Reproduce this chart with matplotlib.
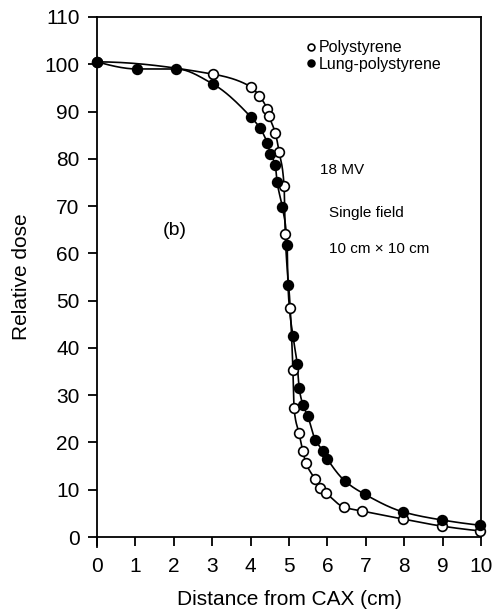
import numpy as np
import matplotlib.pyplot as plt

plt.rcParams['font.family'] = ['Liberation Sans', 'DejaVu Sans']

# polystyrene phantom (open circles)
poly_x = [0, 3.02, 4.01, 4.22, 4.43, 4.48, 4.64, 4.74, 4.87, 4.90, 5.03,
          5.10, 5.13, 5.26, 5.36, 5.44, 5.68, 5.81, 5.96, 6.43, 6.90,
          7.97, 8.98, 9.97]
poly_y = [100.5, 97.9, 95.2, 93.3, 90.5, 89.0, 85.5, 81.5, 74.3, 64.0, 48.4,
          35.4, 27.2, 21.9, 18.1, 15.6, 12.2, 10.3, 9.3, 6.3, 5.5,
          3.8, 2.3, 1.3]

# lung-polystyrene phantom (filled circles)
lung_x = [0, 1.04, 2.06, 3.02, 4.01, 4.24, 4.43, 4.51, 4.64, 4.69, 4.82,
          4.95, 4.97, 5.10, 5.21, 5.26, 5.36, 5.49, 5.68, 5.89, 5.99,
          6.46, 6.98, 7.97, 8.98, 9.97]
lung_y = [100.5, 99.0, 99.0, 95.8, 88.8, 86.5, 83.4, 81.1, 78.7, 75.0, 69.9,
          61.7, 53.3, 42.5, 36.6, 31.6, 28.0, 25.5, 20.6, 18.1, 16.6,
          11.8, 9.0, 5.3, 3.6, 2.5]

x_ticks = list(range(0, 11))
y_ticks = list(range(0, 111, 10))


def smooth_path(x, y, n=20):
    # monotone cubic (Fritsch-Carlson) so the drawn curve passes smoothly through the points
    x = np.asarray(x, float)
    y = np.asarray(y, float)
    h = np.diff(x)
    d = np.diff(y) / h
    m = np.zeros_like(x)
    for i in range(1, len(x) - 1):
        if d[i - 1] * d[i] > 0:
            w1 = 2 * h[i] + h[i - 1]
            w2 = h[i] + 2 * h[i - 1]
            m[i] = (w1 + w2) / (w1 / d[i - 1] + w2 / d[i])
    for i, j, k in [(0, 0, 1), (-1, -1, -2)]:
        hh0, hh1 = h[j], h[k]
        dd0, dd1 = d[j], d[k]
        v = ((2 * hh0 + hh1) * dd0 - hh0 * dd1) / (hh0 + hh1)
        if v * dd0 <= 0:
            v = 0.0
        elif dd0 * dd1 <= 0 and abs(v) > abs(3 * dd0):
            v = 3 * dd0
        m[i] = v
    xs, ys = [], []
    for i in range(len(x) - 1):
        t = np.linspace(0, 1, n, endpoint=False)
        h00 = 2 * t**3 - 3 * t**2 + 1
        h10 = t**3 - 2 * t**2 + t
        h01 = -2 * t**3 + 3 * t**2
        h11 = t**3 - t**2
        xs.append(x[i] + t * h[i])
        ys.append(h00 * y[i] + h10 * h[i] * m[i] + h01 * y[i + 1] + h11 * h[i] * m[i + 1])
    xs.append([x[-1]])
    ys.append([y[-1]])
    return np.concatenate(xs), np.concatenate(ys)


fig = plt.figure(figsize=(4.95, 6.14), dpi=100)
ax = fig.add_axes([0.196, 0.1254, 0.776, 0.847])

for xv, yv, fc, lab, z in [(poly_x, poly_y, 'white', 'Polystyrene', 3),
                           (lung_x, lung_y, 'black', 'Lung-polystyrene', 4)]:
    sx, sy = smooth_path(xv, yv)
    ax.plot(sx, sy, color='black', lw=1.2, clip_on=False, zorder=2)
    ax.plot(xv, yv, ls='none', marker='o', ms=7, mfc=fc, mec='black',
            mew=1.2, clip_on=False, zorder=z, label=lab)

ax.set_xlim(0, 10)
ax.set_ylim(0, 110)
ax.set_xticks(x_ticks)
ax.set_yticks(y_ticks)
ax.tick_params(direction='out', length=6.5, width=1.3, labelsize=15)
ax.tick_params(axis='x', pad=8)
ax.tick_params(axis='y', pad=6)
for s in ax.spines.values():
    s.set_linewidth(1.3)
ax.spines['left'].set_bounds(-2.2, 110)

ax.set_xlabel('Distance from CAX (cm)', fontsize=15, labelpad=10)
ax.set_ylabel('Relative dose', fontsize=15, labelpad=10)

ax.text(1.72, 64.8, '(b)', fontsize=14, va='center')
ax.text(5.8, 77.7, '18 MV', fontsize=11, va='center')
ax.text(6.05, 68.6, 'Single field', fontsize=11, va='center')
ax.text(6.05, 61.0, '10 cm \u00d7 10 cm', fontsize=11, va='center')

ax.legend(loc='upper left', bbox_to_anchor=(0.515, 0.98), frameon=False,
          fontsize=11.5, handlelength=0.4, handletextpad=0.3, markerscale=0.7,
          labelspacing=0.1, borderaxespad=0.4)

fig.savefig('out.png', dpi=100)
